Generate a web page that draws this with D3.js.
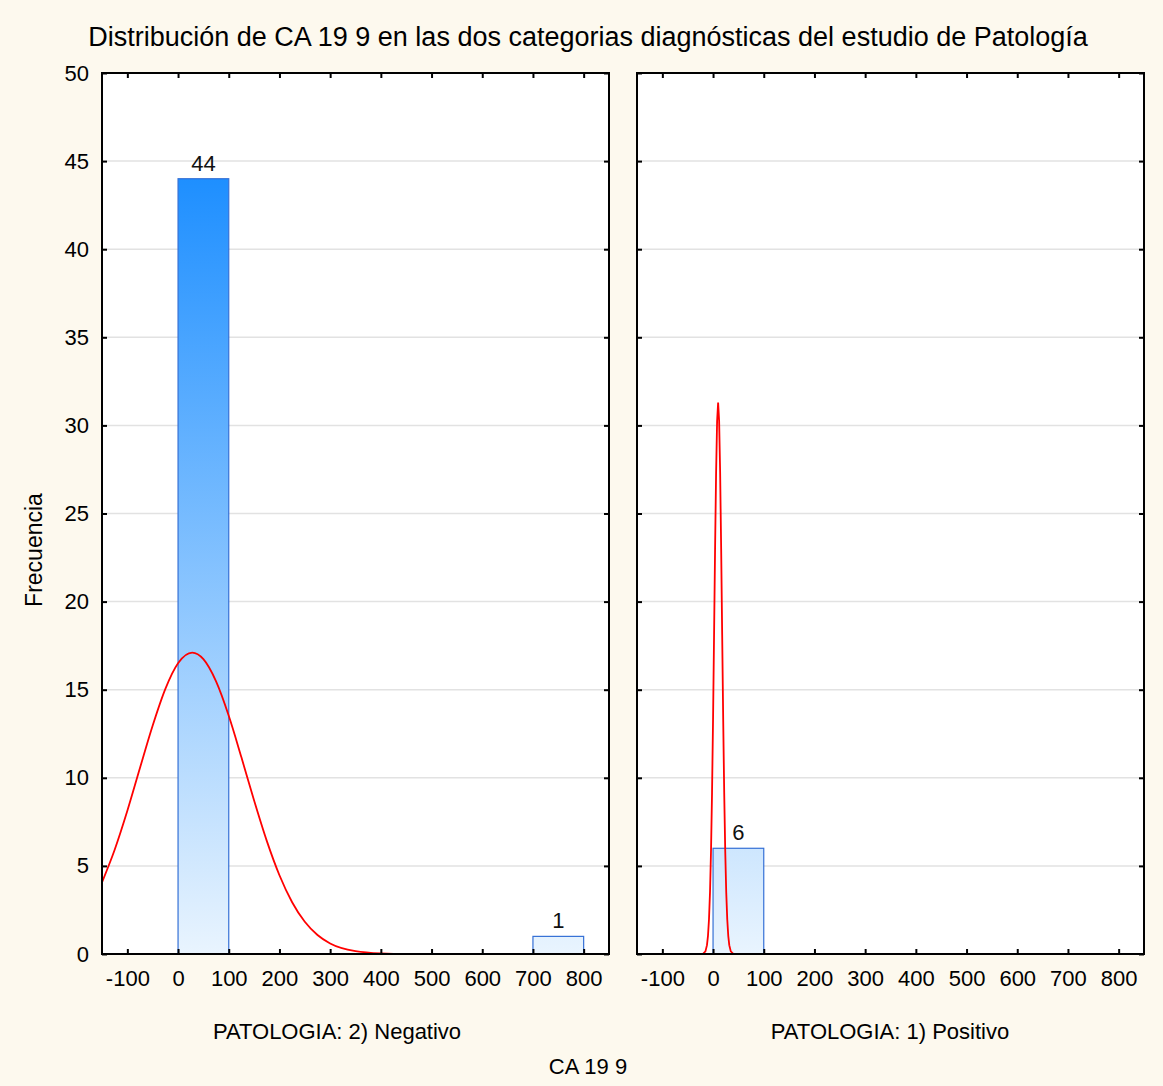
<!DOCTYPE html>
<html>
<head>
<meta charset="utf-8">
<script src="https://cdn.jsdelivr.net/npm/d3@7"></script>
<style>
	body { margin: 0; background: #fdf9ee; }
	svg { display: block; font-family: "Liberation Sans", Arial, sans-serif; }
</style>
</head>
<body>
<div id="chart"></div>
<script>
// histogram bins (start of each 100-wide bin) and counts per panel
const panelNames = ["PATOLOGIA: 2) Negativo", "PATOLOGIA: 1) Positivo"];
const binWidth = 100;
const negBins = [0, 700];
const negCounts = [44, 1];
const posBins = [0];
const posCounts = [6];

// fitted normal curves
const negCurveX = [-150, -125, -100, -75, -50, -25, 0, 28, 50, 75, 100, 125, 150, 175, 200, 225, 250, 275, 300, 350, 400, 450, 850];
const negCurveY = [4.07, 5.92, 8.13, 10.57, 12.97, 15.05, 16.5, 17.1, 16.73, 15.47, 13.52, 11.16, 8.71, 6.42, 4.47, 2.94, 1.83, 1.08, 0.6, 0.16, 0.03, 0, 0];
const posCurveX = [-150, -20, -15, -12, -10, -8, -6, -4, -2, 0, 2, 4, 6, 8, 10, 12, 14, 16, 18, 20, 22, 24, 26, 28, 30, 32, 35, 40, 850];
const posCurveY = [0, 0.01, 0.15, 0.5, 1.03, 1.97, 3.51, 5.87, 9.15, 13.32, 18.12, 23.01, 27.3, 30.25, 31.3, 30.25, 27.3, 23.01, 18.12, 13.32, 9.15, 5.87, 3.51, 1.97, 1.03, 0.5, 0.15, 0.01, 0];

const xTicks = [-100, 0, 100, 200, 300, 400, 500, 600, 700, 800];
const yTicks = [0, 5, 10, 15, 20, 25, 30, 35, 40, 45, 50];

const width = 1163;
const height = 1086;

const svg = d3
	.select("#chart")
	.append("svg")
	.attr("width", width)
	.attr("height", height);

svg.append("rect")
	.attr("width", width)
	.attr("height", height)
	.attr("fill", "#fdf9ee");

// the bar gradient is fixed in plot space so short bars stay pale
const defs = svg.append("defs");

const plotTop = 73;
const plotBottom = 954;
const panelLeft = [102, 637];
const panelWidth = 507;
const labelCenter = [337, 890];

const y = d3.scaleLinear().domain([0, 50]).range([plotBottom, plotTop]);

const grad = defs
	.append("linearGradient")
	.attr("id", "barGrad")
	.attr("gradientUnits", "userSpaceOnUse")
	.attr("x1", 0)
	.attr("x2", 0)
	.attr("y1", y(44))
	.attr("y2", y(0));
grad.append("stop").attr("offset", 0).attr("stop-color", "#1e8fff");
grad.append("stop").attr("offset", 1).attr("stop-color", "#e9f4fe");

const panelData = [
	{ bins: negBins, counts: negCounts, cx: negCurveX, cy: negCurveY },
	{ bins: posBins, counts: posCounts, cx: posCurveX, cy: posCurveY },
];

panelData.forEach((p, i) => {
	const left = panelLeft[i];
	const right = left + panelWidth;
	const x = d3.scaleLinear().domain([-150, 850]).range([left, right]);

	defs.append("clipPath")
		.attr("id", "clip" + i)
		.append("rect")
		.attr("x", left)
		.attr("y", plotTop)
		.attr("width", panelWidth)
		.attr("height", plotBottom - plotTop);

	const g = svg.append("g");

	g.append("rect")
		.attr("x", left)
		.attr("y", plotTop)
		.attr("width", panelWidth)
		.attr("height", plotBottom - plotTop)
		.attr("fill", "white");

	// grid lines
	g.selectAll(".grid")
		.data(yTicks.slice(1, -1))
		.enter()
		.append("line")
		.attr("x1", left)
		.attr("x2", right)
		.attr("y1", (d) => y(d))
		.attr("y2", (d) => y(d))
		.attr("stroke", "#e2e2e2")
		.attr("stroke-width", 1.5);

	// bars
	const bars = p.bins.map((b, j) => ({ b: b, c: p.counts[j] }));
	g.selectAll(".bar")
		.data(bars)
		.enter()
		.append("rect")
		.attr("x", (d) => x(d.b))
		.attr("y", (d) => y(d.c))
		.attr("width", (d) => x(d.b + binWidth) - x(d.b))
		.attr("height", (d) => y(0) - y(d.c))
		.attr("fill", "url(#barGrad)")
		.attr("stroke", "#3570d6")
		.attr("stroke-width", 1.2);

	g.selectAll(".lbl")
		.data(bars)
		.enter()
		.append("text")
		.attr("x", (d) => x(d.b + binWidth / 2))
		.attr("y", (d) => y(d.c) - 8)
		.attr("text-anchor", "middle")
		.attr("font-size", 22)
		.attr("fill", "#111")
		.text((d) => d.c);

	// normal curve
	const pts = p.cx.map((v, j) => [v, p.cy[j]]);
	const line = d3
		.line()
		.x((d) => x(d[0]))
		.y((d) => y(d[1]))
		.curve(i === 0 ? d3.curveMonotoneX : d3.curveLinear);
	g.append("path")
		.datum(pts)
		.attr("d", line)
		.attr("fill", "none")
		.attr("stroke", "#ff0000")
		.attr("stroke-width", 1.8)
		.attr("clip-path", "url(#clip" + i + ")");

	// axes, ticks point inward
	g.append("g")
		.attr("transform", `translate(0,${plotBottom})`)
		.call(d3.axisBottom(x).tickValues(xTicks).tickSizeInner(-5).tickSizeOuter(0).tickPadding(16).tickFormat((d) => String(d)))
		.call((a) => a.select(".domain").remove())
		.call((a) => a.selectAll("line").attr("stroke", "#000").attr("stroke-width", 2))
		.call((a) => a.selectAll("text").attr("font-size", 22).attr("fill", "#000").attr("font-family", null));

	g.append("g")
		.attr("transform", `translate(0,${plotTop})`)
		.call(d3.axisTop(x).tickValues(xTicks).tickSizeInner(-5).tickSizeOuter(0).tickFormat(""))
		.call((a) => a.select(".domain").remove())
		.call((a) => a.selectAll("line").attr("stroke", "#000").attr("stroke-width", 2));

	g.append("g")
		.attr("transform", `translate(${left},0)`)
		.call(d3.axisLeft(y).tickValues(yTicks).tickSizeInner(-5).tickSizeOuter(0).tickPadding(13).tickFormat(i === 0 ? (d) => String(d) : ""))
		.call((a) => a.select(".domain").remove())
		.call((a) => a.selectAll("line").attr("stroke", "#000").attr("stroke-width", 2))
		.call((a) => a.selectAll("text").attr("font-size", 22).attr("fill", "#000").attr("font-family", null));

	g.append("g")
		.attr("transform", `translate(${right},0)`)
		.call(d3.axisRight(y).tickValues(yTicks).tickSizeInner(-5).tickSizeOuter(0).tickFormat(""))
		.call((a) => a.select(".domain").remove())
		.call((a) => a.selectAll("line").attr("stroke", "#000").attr("stroke-width", 2));

	g.append("rect")
		.attr("x", left)
		.attr("y", plotTop)
		.attr("width", panelWidth)
		.attr("height", plotBottom - plotTop)
		.attr("fill", "none")
		.attr("stroke", "#000")
		.attr("stroke-width", 2);

	g.append("text")
		.attr("x", labelCenter[i])
		.attr("y", 1039)
		.attr("text-anchor", "middle")
		.attr("font-size", 22)
		.text(panelNames[i]);
});

svg.append("text")
	.attr("x", 588)
	.attr("y", 46)
	.attr("text-anchor", "middle")
	.attr("font-size", 27)
	.text("Distribución de CA 19 9 en las dos categorias diagnósticas del estudio de Patología");

svg.append("text")
	.attr("x", 588)
	.attr("y", 1074)
	.attr("text-anchor", "middle")
	.attr("font-size", 22)
	.text("CA 19 9");

svg.append("text")
	.attr("transform", "translate(42,550) rotate(-90)")
	.attr("text-anchor", "middle")
	.attr("font-size", 23)
	.text("Frecuencia");
</script>
</body>
</html>
